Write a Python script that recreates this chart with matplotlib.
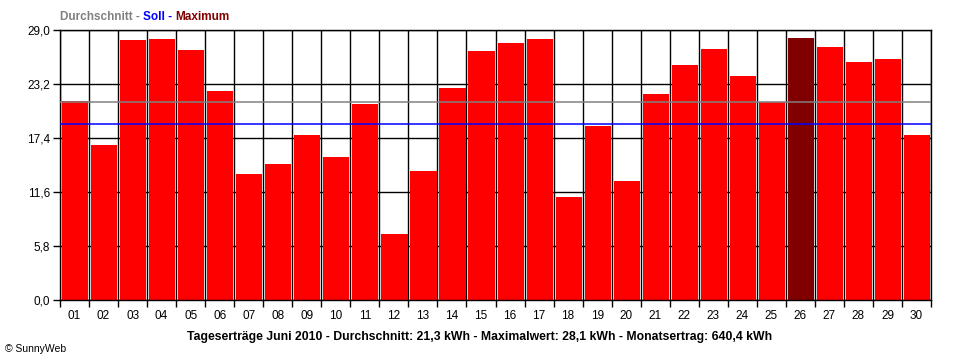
import numpy as np
import matplotlib
matplotlib.use("Agg")
import matplotlib.pyplot as plt

plt.rcParams['font.family'] = ['Liberation Sans', 'DejaVu Sans']

# daily yields June 2010 (kWh)
days = ["%02d" % d for d in range(1, 31)]
yields = [21.4, 16.7, 27.9, 28.0, 26.9, 22.4, 13.5, 14.6, 17.7, 15.4,
          21.1, 7.1, 13.9, 22.8, 26.7, 27.6, 28.0, 11.1, 18.7, 12.8,
          22.1, 25.2, 27.0, 24.1, 21.3, 28.1, 27.2, 25.6, 25.9, 17.7]
average = 21.3
target = 18.9
yticks = [0.0, 5.8, 11.6, 17.4, 23.2, 29.0]

fig = plt.figure(figsize=(9.6, 3.6), dpi=100)
ax = fig.add_axes([60 / 960, 1 - 300 / 360, 871 / 960, 270 / 360])

x = np.arange(1, len(days) + 1)
imax = int(np.argmax(yields))
colors = ['#ff0000'] * len(days)
colors[imax] = '#800000'
ax.bar(x + 0.02, yields, width=0.9, color=colors, zorder=2)

ax.axhline(average, color='#808080', lw=1.1, zorder=3)
ax.axhline(target, color='#0000ff', lw=1.1, zorder=3)

ax.set_xlim(0.5, len(days) + 0.5)
ax.set_ylim(0, 29.0)
ax.set_xticks(x)
ax.set_xticklabels(days)
ax.set_xticks(np.arange(0.5, len(days) + 1), minor=True)
ax.set_yticks(yticks)
ax.set_yticklabels([("%.1f" % v).replace('.', ',') for v in yticks])
ax.tick_params(axis='x', which='major', length=0, pad=7, labelsize=8.5)
ax.tick_params(axis='x', which='minor', length=5, width=1.0, direction='out')
ax.tick_params(axis='y', length=5, width=1.0, direction='out', pad=2, labelsize=8.5)
ax.grid(axis='x', which='minor', color='black', lw=1.0, zorder=0)
ax.grid(axis='y', which='major', color='black', lw=1.0, zorder=0)
ax.set_axisbelow(True)
for s in ax.spines.values():
    s.set_linewidth(1.0)

# legend-like header
t1 = fig.text(60 / 960, 1 - 17 / 360, "Durchschnitt - ", color='#808080',
              fontsize=8.5, fontweight='bold', va='center')
t2 = ax.annotate("Soll - ", xy=(1, 0), xycoords=t1, va='bottom',
                 color='#0000ff', fontsize=8.5, fontweight='bold')
ax.annotate("Maximum", xy=(1, 0), xycoords=t2, va='bottom',
            color='#800000', fontsize=8.5, fontweight='bold')

fig.text(480 / 960, 1 - 337 / 360,
         "Tageserträge Juni 2010 - Durchschnitt: 21,3 kWh - Maximalwert: 28,1 kWh - Monatsertrag: 640,4 kWh",
         ha='center', va='center', fontsize=8.8, fontweight='bold')
fig.text(5 / 960, 1 - 349 / 360, "© SunnyWeb", ha='left', va='center', fontsize=7.5)

fig.savefig("out.png", dpi=100)
